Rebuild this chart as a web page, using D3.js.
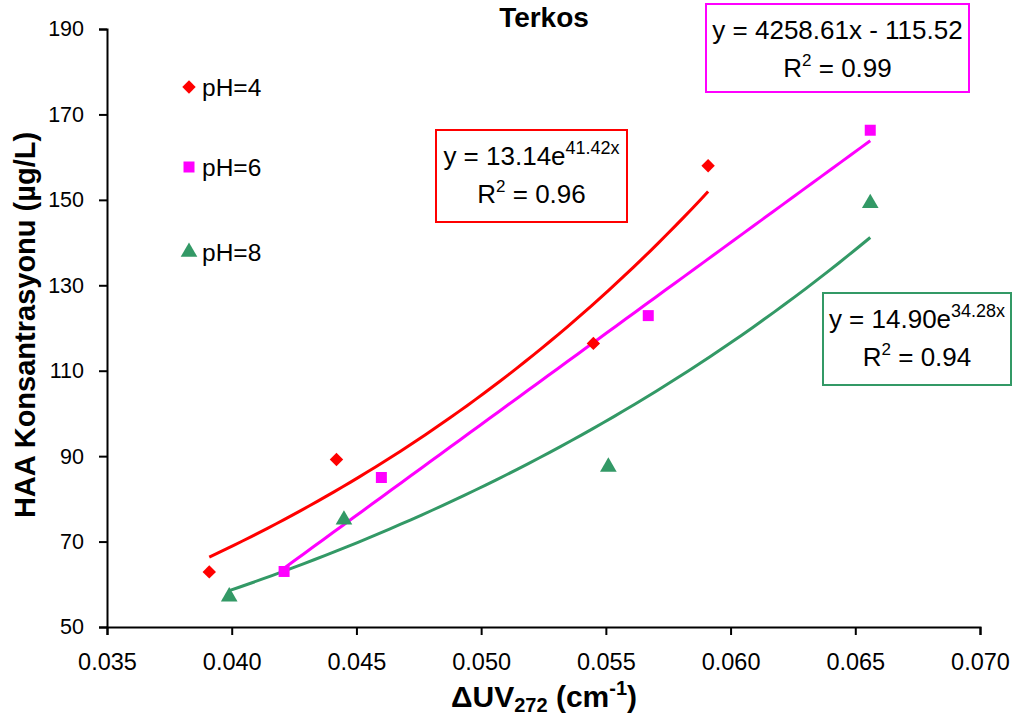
<!DOCTYPE html>
<html>
<head>
<meta charset="utf-8">
<script src="https://cdn.jsdelivr.net/npm/d3@7"></script>
<style>
  body { margin: 0; background: #fff; }
  text { font-family: "Liberation Sans", Arial, sans-serif; fill: #000; }
</style>
</head>
<body>
<div id="chart"></div>
<script>
// values
const xTicks = [0.035, 0.040, 0.045, 0.050, 0.055, 0.060, 0.065, 0.070];
const yTicks = [50, 70, 90, 110, 130, 150, 170, 190];

const seriesNames = ['pH=4', 'pH=6', 'pH=8'];
const ph4X = [0.0391, 0.0442, 0.0545, 0.0591];
const ph4Y = [62.9, 89.2, 116.4, 158.0];
const ph6X = [0.0421, 0.0460, 0.0567, 0.0656];
const ph6Y = [63.0, 85.0, 122.9, 166.3];
const ph8X = [0.0399, 0.0445, 0.0551, 0.0656];
const ph8Y = [57.1, 75.1, 87.5, 149.2];

// trendline fits as printed in the boxes
const fitTypes = ['exp', 'lin', 'exp'];
const fitA = [13.14, 4258.61, 14.90];
const fitB = [41.42, -115.52, 34.28];
const fitR2 = ['0.96', '0.99', '0.94'];

const colors = ['#ff0000', '#ff00ff', '#339966'];

const width = 1015, height = 717;
const margin = {left: 107, right: 35, top: 29, bottom: 90};

const svg = d3.select('#chart').append('svg')
    .attr('width', width).attr('height', height);

const x = d3.scaleLinear().domain([0.035, 0.070]).range([margin.left, width - margin.right]);
const y = d3.scaleLinear().domain([50, 190]).range([height - margin.bottom, margin.top]);

// axes
const xAxis = svg.append('g')
    .attr('transform', `translate(0,${y(50)})`)
    .call(d3.axisBottom(x).tickValues(xTicks).tickFormat(d3.format('.3f')).tickSize(8).tickPadding(18));
const yAxis = svg.append('g')
    .attr('transform', `translate(${x(0.035)},0)`)
    .call(d3.axisLeft(y).tickValues(yTicks).tickSize(8).tickPadding(15));

[xAxis, yAxis].forEach(g => {
    g.select('.domain').attr('stroke', '#000').attr('stroke-width', 2);
    g.selectAll('.tick line').attr('stroke', '#000').attr('stroke-width', 2);
    g.selectAll('.tick text').attr('font-family', '"Liberation Sans", Arial, sans-serif').attr('fill', '#000');
});
xAxis.selectAll('.tick text').attr('font-size', 23.5);
yAxis.selectAll('.tick text').attr('font-size', 21.5);

// trendlines
const allX = [ph4X, ph6X, ph8X];
const allY = [ph4Y, ph6Y, ph8Y];
const line = d3.line().x(d => x(d[0])).y(d => y(d[1]));

allX.forEach((xs, i) => {
    const lo = d3.min(xs), hi = d3.max(xs);
    const pts = d3.range(0, 61).map(k => {
        const xv = lo + (hi - lo) * k / 60;
        const yv = fitTypes[i] === 'exp' ? fitA[i] * Math.exp(fitB[i] * xv) : fitA[i] * xv + fitB[i];
        return [xv, yv];
    });
    svg.append('path').datum(pts)
        .attr('d', line)
        .attr('fill', 'none')
        .attr('stroke', colors[i])
        .attr('stroke-width', 3);
});

// markers - excel style diamond is a square turned 45 degrees
const squareDiamond = {
    draw(ctx, size) {
        const r = Math.sqrt(size / 2);
        ctx.moveTo(0, -r); ctx.lineTo(r, 0); ctx.lineTo(0, r); ctx.lineTo(-r, 0); ctx.closePath();
    }
};
const symbolTypes = [squareDiamond, d3.symbolSquare, d3.symbolTriangle];
const symbolSizes = [90, 121, 120];
function marker(g, i, cx, cy) {
    g.append('path')
        .attr('d', d3.symbol().type(symbolTypes[i]).size(symbolSizes[i])())
        .attr('transform', `translate(${cx},${cy})`)
        .attr('fill', colors[i]);
}
allX.forEach((xs, i) => {
    xs.forEach((xv, j) => marker(svg, i, x(xv), y(allY[i][j])));
});

// legend
const legendY = [87, 167, 252];
seriesNames.forEach((name, i) => {
    marker(svg, i, 189, legendY[i]);
    svg.append('text')
        .attr('x', 202).attr('y', legendY[i])
        .attr('dy', '0.36em')
        .attr('font-size', 24.5)
        .text(name);
});

// equation boxes
const boxes = [
    {x: 436, y: 130, w: 191, h: 92},
    {x: 706, y: 4, w: 263, h: 88},
    {x: 823, y: 293, w: 188, h: 92}
];
boxes.forEach((b, i) => {
    const g = svg.append('g');
    g.append('rect')
        .attr('x', b.x).attr('y', b.y).attr('width', b.w).attr('height', b.h)
        .attr('fill', '#fff').attr('stroke', colors[i]).attr('stroke-width', 2);
    const cx = b.x + b.w / 2;
    const t1 = g.append('text')
        .attr('x', cx).attr('y', b.y + 35)
        .attr('text-anchor', 'middle')
        .attr('font-size', 26);
    if (fitTypes[i] === 'exp') {
        t1.append('tspan').text(`y = ${fitA[i].toFixed(2)}e`);
        t1.append('tspan').attr('font-size', 18).attr('dy', -11).text(`${fitB[i].toFixed(2)}x`);
    } else {
        t1.text(`y = ${fitA[i].toFixed(2)}x - ${Math.abs(fitB[i]).toFixed(2)}`);
    }
    const t2 = g.append('text')
        .attr('x', cx).attr('y', b.y + 73)
        .attr('text-anchor', 'middle')
        .attr('font-size', 26);
    t2.append('tspan').text('R');
    t2.append('tspan').attr('font-size', 17).attr('dy', -11).text('2');
    t2.append('tspan').attr('dy', 11).text(` = ${fitR2[i]}`);
});

// title
svg.append('text')
    .attr('x', 544).attr('y', 27)
    .attr('text-anchor', 'middle')
    .attr('font-size', 28).attr('font-weight', 'bold')
    .text('Terkos');

// axis titles
const xt = svg.append('text')
    .attr('x', 544).attr('y', 707)
    .attr('text-anchor', 'middle')
    .attr('font-size', 30).attr('font-weight', 'bold');
xt.append('tspan').text('ΔUV');
xt.append('tspan').attr('font-size', 20).attr('dy', 5).text('272');
xt.append('tspan').attr('dy', -5).text(' (cm');
xt.append('tspan').attr('font-size', 20).attr('dy', -12).text('-1');
xt.append('tspan').attr('dy', 12).text(')');

svg.append('text')
    .attr('transform', 'translate(35,325) rotate(-90)')
    .attr('text-anchor', 'middle')
    .attr('font-size', 29).attr('font-weight', 'bold')
    .text('HAA Konsantrasyonu (µg/L)');
</script>
</body>
</html>
